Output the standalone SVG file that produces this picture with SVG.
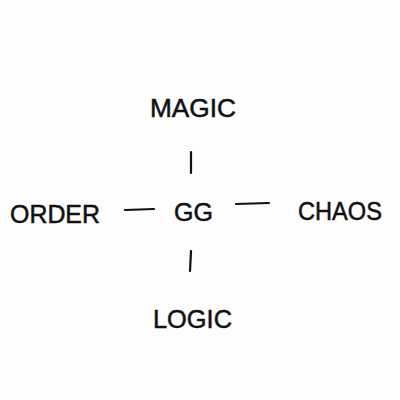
<svg xmlns="http://www.w3.org/2000/svg" width="400" height="400" viewBox="0 0 400 400">
<style>
.t{font-family:"Liberation Sans",Arial,sans-serif;font-size:25px;fill:#111;stroke:#111;stroke-width:0.5;}
.c{stroke:#111;stroke-width:2.2;stroke-linecap:round;fill:none;}
</style>
<rect width="400" height="400" fill="#fdfdfd"/>
<g id="connectors">
<line class="c" x1="191" y1="152" x2="191" y2="173"/>
<line class="c" x1="191" y1="251" x2="190" y2="271"/>
<line class="c" x1="125" y1="210" x2="154" y2="209"/>
<line class="c" x1="236" y1="204" x2="269" y2="203"/>
</g>
<g id="magic"><text class="t" x="150" y="117" textLength="86" lengthAdjust="spacingAndGlyphs">MAGIC</text></g>
<g id="order"><text class="t" x="10" y="223" textLength="90" lengthAdjust="spacingAndGlyphs">ORDER</text></g>
<g id="gg"><text class="t" x="174" y="221" textLength="39" lengthAdjust="spacingAndGlyphs">GG</text></g>
<g id="chaos"><text class="t" x="298" y="220" textLength="84" lengthAdjust="spacingAndGlyphs">CHAOS</text></g>
<g id="logic"><text class="t" x="153" y="328" textLength="79" lengthAdjust="spacingAndGlyphs">LOGIC</text></g>
</svg>
